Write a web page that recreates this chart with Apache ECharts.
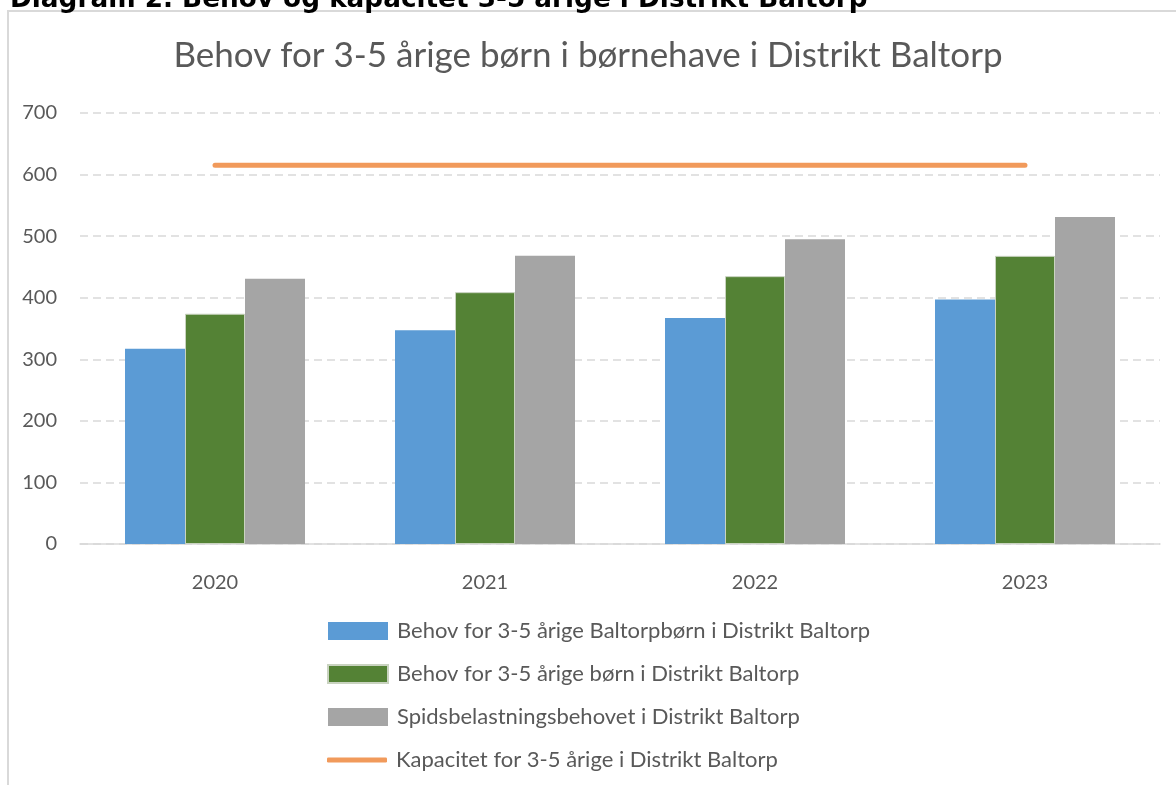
<!DOCTYPE html>
<html>
<head>
<meta charset="utf-8">
<script src="https://cdn.jsdelivr.net/npm/echarts@6/dist/echarts.min.js"></script>
<style>
  html, body { margin: 0; padding: 0; background: #fff; }
  #chart { width: 1176px; height: 785px; }
</style>
</head>
<body>
<div id="chart"></div>
<script>
const years = ['2020', '2021', '2022', '2023'];
const baltorpChildren = [317, 347, 367, 397];
const districtChildren = [374, 409, 435, 468];
const peakDemand = [431, 468, 495, 531];
const capacity = [615, 615, 615, 615];

const seriesNames = [
  'Behov for 3-5 årige Baltorpbørn i Distrikt Baltorp',
  'Behov for 3-5 årige børn i Distrikt Baltorp',
  'Spidsbelastningsbehovet i Distrikt Baltorp',
  'Kapacitet for 3-5 årige i Distrikt Baltorp'
];

const textColor = '#595959';
const font = 'Lato, "Open Sans", sans-serif';
const legendText = { fontFamily: font, fontSize: 22, lineHeight: 22, color: textColor, padding: [0, 0, 0, 4] };

const chart = echarts.init(document.getElementById('chart'));

chart.setOption({
  animation: false,
  graphic: [
    {
      type: 'rect',
      shape: { x: 8, y: 11, width: 1200, height: 800 },
      style: { fill: 'none', stroke: '#D9D9D9', lineWidth: 2 }
    },
    {
      type: 'text',
      left: 10,
      top: -13,
      style: {
        text: 'Diagram 2. Behov og kapacitet 3-5 årige i Distrikt Baltorp',
        font: 'bold 26.3px "DejaVu Sans"',
        fill: '#000'
      }
    }
  ],
  title: {
    text: 'Behov for 3-5 årige børn i børnehave i Distrikt Baltorp',
    left: 'center',
    top: 33,
    textStyle: { fontFamily: font, fontSize: 35, fontWeight: 'normal', color: textColor }
  },
  legend: [
    {
      orient: 'vertical',
      left: 327,
      top: 620,
      padding: 0,
      itemWidth: 60,
      itemHeight: 18,
      itemGap: 21,
      icon: 'rect',
      textStyle: legendText,
      data: seriesNames.slice(0, 3)
    },
    {
      orient: 'vertical',
      left: 327,
      top: 749,
      padding: 0,
      itemWidth: 60,
      itemHeight: 5,
      icon: 'roundRect',
      textStyle: legendText,
      data: seriesNames.slice(3)
    }
  ],
  grid: { left: 80, right: 16, top: 113, bottom: 241 },
  xAxis: {
    type: 'category',
    data: years,
    axisLine: { lineStyle: { color: '#D9D9D9', width: 1.5 } },
    axisTick: { show: false },
    axisLabel: { fontFamily: font, fontSize: 20, color: textColor, margin: 29 }
  },
  yAxis: {
    type: 'value',
    min: 0,
    max: 700,
    interval: 100,
    axisLine: { show: false },
    axisTick: { show: false },
    axisLabel: { fontFamily: font, fontSize: 20, color: textColor, margin: 23 },
    splitLine: { lineStyle: { color: '#D9D9D9', width: 1.5, type: [8, 5] } }
  },
  series: [
    {
      name: seriesNames[0],
      type: 'bar',
      data: baltorpChildren,
      barWidth: 60,
      barGap: '0%',
      itemStyle: { color: '#5B9BD5' }
    },
    {
      name: seriesNames[1],
      type: 'bar',
      data: districtChildren,
      barWidth: 60,
      barGap: '0%',
      itemStyle: { color: '#548235', borderColor: '#C9D3C0', borderWidth: 1 }
    },
    {
      name: seriesNames[2],
      type: 'bar',
      data: peakDemand,
      barWidth: 60,
      barGap: '0%',
      itemStyle: { color: '#A5A5A5' }
    },
    {
      name: seriesNames[3],
      type: 'line',
      data: capacity,
      symbol: 'none',
      lineStyle: { color: '#F19A5B', width: 5, cap: 'round' },
      itemStyle: { color: '#F19A5B' }
    }
  ]
});

window.addEventListener('resize', () => chart.resize());
</script>
</body>
</html>
